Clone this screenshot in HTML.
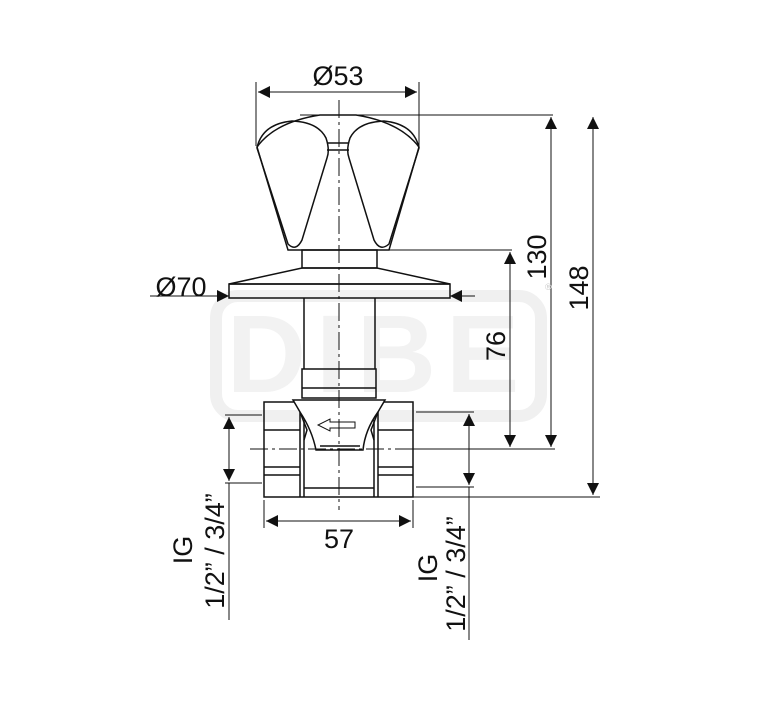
<!DOCTYPE html>
<html><head><style>
html,body{margin:0;padding:0;background:#fff;}
svg{display:block;}
text{font-family:"Liberation Sans",Arial,sans-serif;fill:#111;}
</style></head><body>
<svg width="767" height="709" viewBox="0 0 767 709" xmlns="http://www.w3.org/2000/svg">
<defs>
<marker id="a" viewBox="0 0 10 10" refX="10" refY="5" markerWidth="19" markerHeight="12" markerUnits="userSpaceOnUse" orient="auto-start-reverse"><path d="M0,0 L10,5 L0,10z" fill="#111"/></marker>
</defs>
<!-- watermark -->
<g fill="none" stroke="#f0f0f0" stroke-width="12">
<rect x="216" y="296" width="325" height="120" rx="22"/>
</g>
<text x="378" y="392" font-size="110" text-anchor="middle" style="fill:#f2f2f2;font-weight:bold" letter-spacing="10">DIBE</text>

<g fill="none" stroke="#111" stroke-width="1.5">
<!-- handle -->
<path d="M257,147 Q275,122 320,115 L356,115 Q400,122 419,147 L389,250 L288,250 Z" fill="#fff"/>
<path d="M257,148 Q262,124 292,121 Q318,122 326,138 Q330,150 327,158 L302,240 Q296,252 288,244 Z"/>
<path d="M419,148 Q414,124 384,121 Q358,122 350,138 Q346,150 349,158 L374,240 Q380,252 389,244 Z"/>
<path d="M328,143 L348,143 M327,150 L349,150"/>
<line x1="300" y1="115" x2="553" y2="115" stroke-width="1"/>
<line x1="389" y1="250" x2="512" y2="250" stroke-width="1"/>
<!-- collar -->
<rect x="302" y="250" width="75" height="18"/>
<path d="M302,268 L377,268 L450,284 L229,284 Z"/>
<rect x="229" y="284" width="221" height="14"/>
<!-- stem -->
<path d="M304,298 L304,369 M375,298 L375,369"/>
<rect x="302" y="369" width="74" height="29"/>
<line x1="302" y1="388" x2="376" y2="388"/>
<!-- body -->
<rect x="264" y="402" width="149" height="95"/>
<path d="M264,430 L300,430 M264,467 L300,467 M264,475 L300,475 M378,430 L413,430 M378,467 L413,467 M378,475 L413,475"/>
<path d="M300,402 L300,497 M304,420 L304,497 M378,402 L378,497 M374,420 L374,497 M304,488 L374,488"/>
<path d="M293,400 L385,400 L378,412 Q365,430 363,450 L316,450 Q312,430 300,412 Z" fill="#fff"/>
<path d="M300,412 L307,430 L304,440 M378,412 L371,430 L374,440"/>
<path d="M320,446 L360,446"/>
<path d="M355,422 L330,422 L330,419 L318,425 L330,431 L330,428 L355,428 Z" stroke-width="1"/>
</g>
<!-- center lines -->
<g stroke="#111" stroke-width="1" stroke-dasharray="18,4,3,4" fill="none">
<line x1="339" y1="100" x2="339" y2="510"/>
<line x1="250" y1="449" x2="500" y2="449"/>
</g>
<!-- dimensions -->
<g stroke="#111" stroke-width="1" fill="none">
<line x1="256" y1="82" x2="256" y2="146"/>
<line x1="419" y1="82" x2="419" y2="146"/>
<line x1="258" y1="92" x2="417" y2="92" marker-start="url(#a)" marker-end="url(#a)"/>
<line x1="150" y1="296" x2="229" y2="296" marker-end="url(#a)"/>
<line x1="475" y1="296" x2="450" y2="296" marker-end="url(#a)"/>
<line x1="510" y1="252" x2="510" y2="447" marker-start="url(#a)" marker-end="url(#a)"/>
<line x1="551" y1="117" x2="551" y2="447" marker-start="url(#a)" marker-end="url(#a)"/>
<line x1="593" y1="117" x2="593" y2="495" marker-start="url(#a)" marker-end="url(#a)"/>
<line x1="413" y1="449" x2="555" y2="449"/>
<line x1="413" y1="497" x2="600" y2="497"/>
<line x1="264" y1="500" x2="264" y2="528"/>
<line x1="413" y1="500" x2="413" y2="528"/>
<line x1="266" y1="521" x2="411" y2="521" marker-start="url(#a)" marker-end="url(#a)"/>
<line x1="225" y1="415" x2="262" y2="415"/>
<line x1="225" y1="483" x2="262" y2="483"/>
<line x1="229" y1="417" x2="229" y2="481" marker-start="url(#a)" marker-end="url(#a)"/>
<line x1="229" y1="483" x2="229" y2="620"/>
<line x1="416" y1="412" x2="474" y2="412"/>
<line x1="416" y1="487" x2="474" y2="487"/>
<line x1="469" y1="414" x2="469" y2="485" marker-start="url(#a)" marker-end="url(#a)"/>
<line x1="469" y1="487" x2="469" y2="640"/>
</g>
<!-- labels -->
<g font-size="27">
<text x="338" y="85" text-anchor="middle">Ø53</text>
<text x="181" y="296" text-anchor="middle">Ø70</text>
<text x="339" y="548" text-anchor="middle">57</text>
<text transform="translate(546,257) rotate(-90)" text-anchor="middle">130</text>
<text transform="translate(588,288) rotate(-90)" text-anchor="middle">148</text>
<text transform="translate(505,346) rotate(-90)" text-anchor="middle">76</text>
<text transform="translate(192,550) rotate(-90)" text-anchor="middle">IG</text>
<text transform="translate(224,551) rotate(-90)" text-anchor="middle">1/2” / 3/4”</text>
<text transform="translate(437,568) rotate(-90)" text-anchor="middle">IG</text>
<text transform="translate(465,574) rotate(-90)" text-anchor="middle">1/2” / 3/4”</text>
</g>
<text x="545" y="290" font-size="9" style="fill:#ccc">®</text>
</svg>
</body></html>
